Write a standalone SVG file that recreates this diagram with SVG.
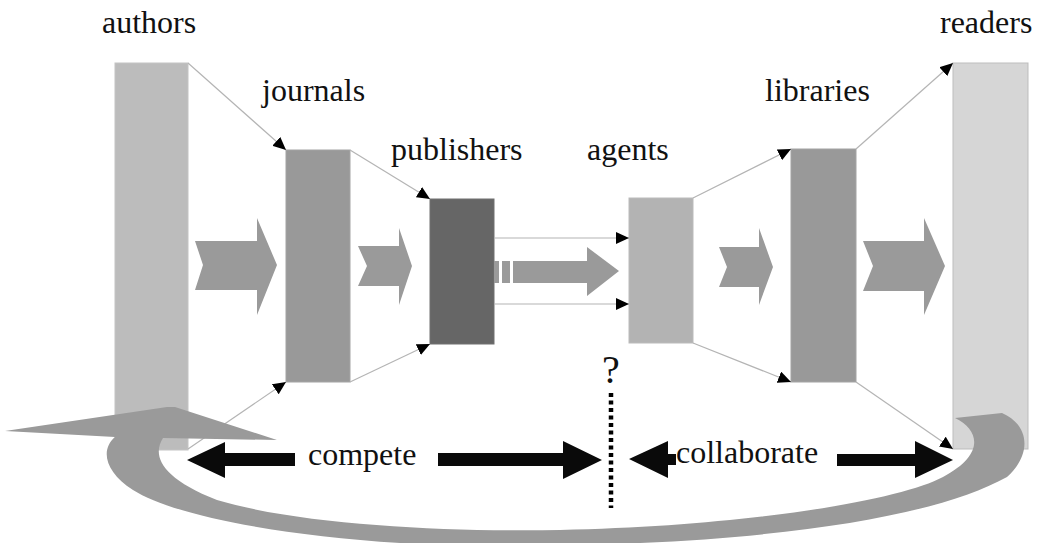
<svg xmlns="http://www.w3.org/2000/svg" width="1047" height="543" viewBox="0 0 1047 543">
  <style>
    .lbl { font-family: "Liberation Serif", "Times New Roman", serif; font-size: 32px; fill: #111111; }
    .conn { stroke: #b4b4b4; stroke-width: 1.2; fill: none; marker-end: url(#ah); }
    .blk { fill: #9a9a9a; }
    .bar { stroke-width: 1; }
    .black { fill: #0a0a0a; }
  </style>
  <defs>
    <marker id="ah" markerUnits="userSpaceOnUse" markerWidth="14" markerHeight="12" refX="13" refY="6" orient="auto">
      <path d="M0,0 L13,6 L0,12 Z" fill="#000"/>
    </marker>
  </defs>
  <rect width="1047" height="543" fill="#ffffff"/>

  <g id="authors">
    <rect class="bar" x="115" y="63" width="73" height="387" fill="#bcbcbc" stroke="#c4c4c4"/>
    <text class="lbl" x="102" y="33">authors</text>
  </g>
  <g id="journals">
    <rect class="bar" x="286" y="150" width="64" height="232" fill="#999999" stroke="#a4a4a4"/>
    <text class="lbl" x="262" y="101">journals</text>
  </g>
  <g id="publishers">
    <rect class="bar" x="430" y="199" width="64" height="145" fill="#666666" stroke="#707070"/>
    <text class="lbl" x="391" y="160">publishers</text>
  </g>
  <g id="agents">
    <rect class="bar" x="629" y="198" width="64" height="145" fill="#b3b3b3" stroke="#bbbbbb"/>
    <text class="lbl" x="587" y="160">agents</text>
  </g>
  <g id="libraries">
    <rect class="bar" x="791" y="149" width="65" height="233" fill="#999999" stroke="#a4a4a4"/>
    <text class="lbl" x="765" y="101">libraries</text>
  </g>
  <g id="readers">
    <rect class="bar" x="953" y="63" width="75" height="386" fill="#d6d6d6" stroke="#bdbdbd"/>
    <text class="lbl" x="940" y="33">readers</text>
  </g>

  <g id="connectors">
    <line class="conn" x1="188" y1="63" x2="286" y2="150"/>
    <line class="conn" x1="188" y1="449" x2="286" y2="382"/>
    <line class="conn" x1="350" y1="150" x2="430" y2="199"/>
    <line class="conn" x1="350" y1="382" x2="430" y2="344"/>
    <line class="conn" x1="494" y1="238" x2="629" y2="238"/>
    <line class="conn" x1="494" y1="304" x2="629" y2="304"/>
    <line class="conn" x1="693" y1="198" x2="791" y2="149"/>
    <line class="conn" x1="693" y1="343" x2="791" y2="382"/>
    <line class="conn" x1="856" y1="149" x2="953" y2="63"/>
    <line class="conn" x1="856" y1="382" x2="953" y2="449"/>
  </g>

  <g id="flow-arrows">
    <polygon class="blk" points="195,241 257,241 257,218 277,265 257,315 257,290 195,290 203,265"/>
    <polygon class="blk" points="358,246 399,246 399,228 412,266 399,305 399,286 358,286 367,266"/>
    <rect class="blk" x="494" y="261" width="5" height="22"/>
    <rect class="blk" x="502" y="261" width="8" height="22"/>
    <polygon class="blk" points="513,261 587,261 587,247 619,271 587,296 587,283 513,283"/>
    <polygon class="blk" points="719,247 759,247 759,228 773,267 759,305 759,287 719,287 727,267"/>
    <polygon class="blk" points="863,241 924,241 924,218 945,266 924,315 924,291 863,291 873,266"/>
  </g>

  <g id="feedback-loop">
    <path class="blk" d="M955,418 L1002,413 C1030,425 1032,455 1007,477 C930,520 750,546 500,546 C330,546 180,520 133,490 C105,472 100,450 115,437 L5,431 L167,407 L175,407 L277,440 L163,438 C152,455 160,478 217,500 C300,525 450,532 560,530 C750,526 900,500 943,477 C985,455 980,430 955,418 Z"/>
  </g>

  <g id="compete">
    <polygon class="black" points="187,460 225,442 225,453 295,453 295,466 225,466 225,478"/>
    <polygon class="black" points="438,453 563,453 563,441 602,460 563,479 563,466 438,466"/>
    <text class="lbl" x="308" y="465">compete</text>
  </g>

  <g id="divider">
    <line x1="611" y1="393" x2="611" y2="508" stroke="#000" stroke-width="4.5" stroke-dasharray="4 3.5"/>
    <text class="lbl" x="611" y="383" text-anchor="middle" style="font-size:40px">?</text>
  </g>

  <g id="collaborate">
    <polygon class="black" points="629,459 668,441 668,454 676,454 676,465 668,465 668,478"/>
    <polygon class="black" points="837,454 915,454 915,441 953,460 915,478 915,466 837,466"/>
    <text class="lbl" x="676" y="463">collaborate</text>
  </g>
</svg>
